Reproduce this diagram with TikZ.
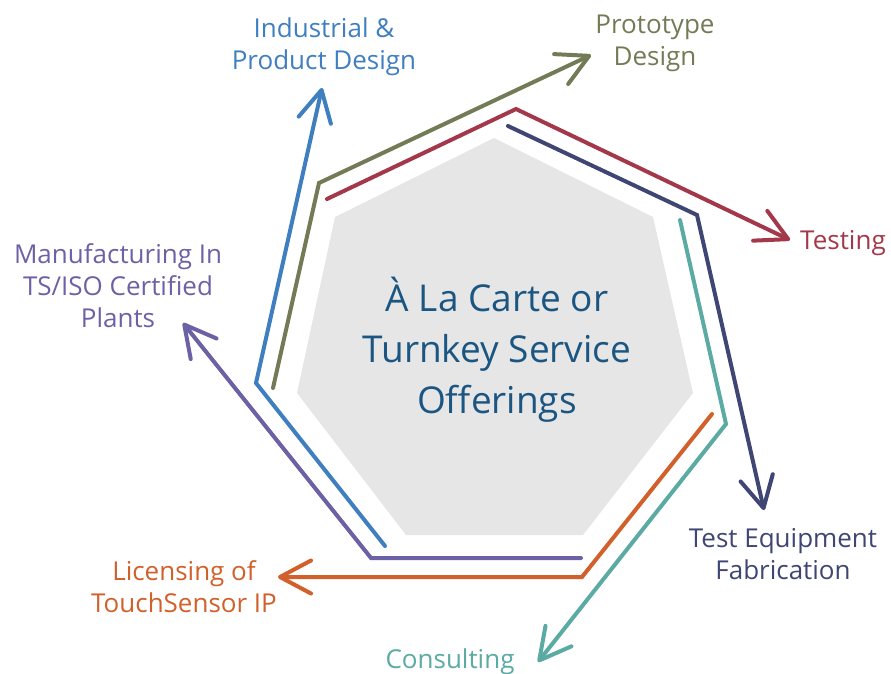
\documentclass[tikz,border=0pt]{standalone}
\usepackage{fontspec}
\setmainfont{Open Sans}
\usetikzlibrary{arrows.meta}
\definecolor{cblue}{HTML}{3F7FC0}
\definecolor{colive}{HTML}{737B56}
\definecolor{cred}{HTML}{A4384B}
\definecolor{cnavy}{HTML}{3F4674}
\definecolor{cteal}{HTML}{5BAAA3}
\definecolor{corange}{HTML}{D1602B}
\definecolor{cpurple}{HTML}{6B62A6}
\definecolor{ctext}{HTML}{1B5581}
\definecolor{cgray}{HTML}{E6E6E6}
\tikzset{
  flow/.style={line width=4pt, line cap=round, line join=miter,
    -{Straight Barb[length=31pt,width=33pt,line width=4pt,line cap=round,line join=round]}},
  lbl/.style={font=\fontsize{26}{32}\selectfont, align=center, inner sep=0pt},
}
\begin{document}
\begin{tikzpicture}[x=1pt,y=-1pt]
\useasboundingbox (0,0) rectangle (891,674);
% heptagon
\fill[cgray] (494,138) -- (653,217) -- (693,393) -- (583,535) -- (406,535) -- (297,393) -- (335,217) -- cycle;
\node[font=\fontsize{37}{51}\selectfont, align=center, text=ctext, inner sep=0pt] (center) at (497,350)
  {À La Carte or\\Turnkey Service\\Offerings};
% labels
\node[lbl, text=cblue] (ind) at (324,47) {Industrial \&\\Product Design};
\node[lbl, text=colive] (proto) at (655,43) {Prototype\\Design};
\node[lbl, text=cred, anchor=west] (test) at (800,243) {Testing};
\node[lbl, text=cnavy] (teq) at (783,554) {Test Equipment\\Fabrication};
\node[lbl, text=cteal] (cons) at (450,662) {Consulting};
\node[lbl, text=corange] (lic) at (184,587) {Licensing of\\TouchSensor IP};
\node[lbl, text=cpurple] (man) at (118,286) {Manufacturing In\\TS/ISO Certified\\Plants};
% path coordinates
\coordinate (b1) at (385,546); \coordinate (b2) at (256,383); \coordinate (b3) at (322,88);
\coordinate (o1) at (273,388); \coordinate (o2) at (319,183); \coordinate (o3) at (591,55);
\coordinate (r1) at (327,199); \coordinate (r2) at (516,109); \coordinate (r3) at (790,240);
\coordinate (n1) at (508,126); \coordinate (n2) at (697,215); \coordinate (n3) at (764,510);
\coordinate (t1) at (680,220); \coordinate (t2) at (726,424); \coordinate (t3) at (538,662);
\coordinate (g1) at (712,414); \coordinate (g2) at (582,577); \coordinate (g3) at (278,577);
\coordinate (p1) at (581,558); \coordinate (p2) at (371,558); \coordinate (p3) at (183,323);
\draw[flow, cblue] (b1) -- (b2) -- (b3);
\draw[flow, colive] (o1) -- (o2) -- (o3);
\draw[flow, cred] (r1) -- (r2) -- (r3);
\draw[flow, cnavy] (n1) -- (n2) -- (n3);
\draw[flow, cteal] (t1) -- (t2) -- (t3);
\draw[flow, corange] (g1) -- (g2) -- (g3);
\draw[flow, cpurple] (p1) -- (p2) -- (p3);
\end{tikzpicture}
\end{document}
